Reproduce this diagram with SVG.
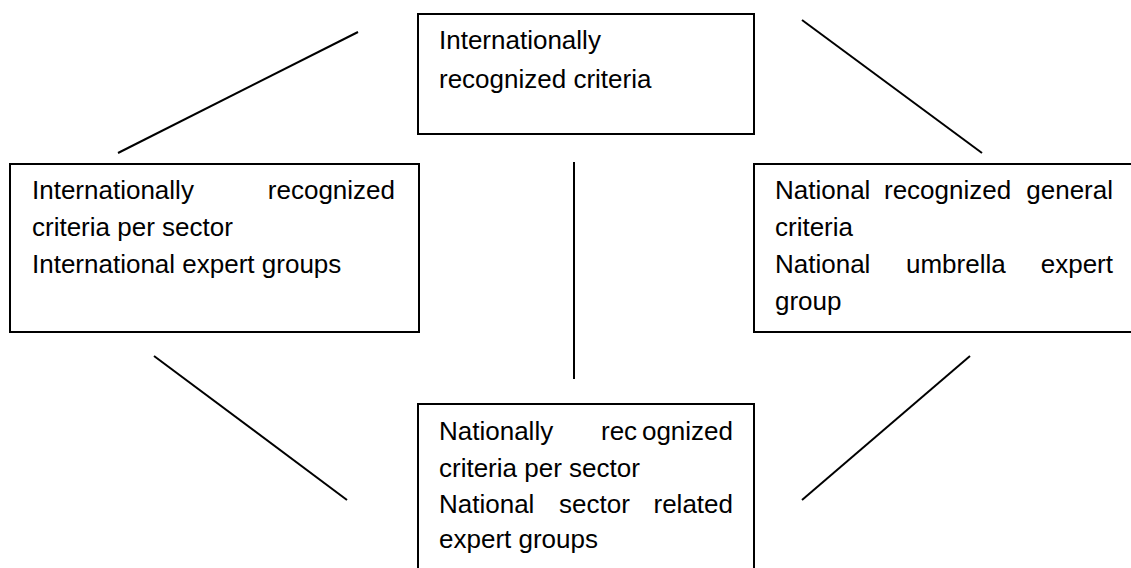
<svg xmlns="http://www.w3.org/2000/svg" width="1131" height="568" viewBox="0 0 1131 568">
<style>
.box{fill:#fff;stroke:#000;stroke-width:2}
.ln{stroke:#000;stroke-width:2;fill:none}
text{font-family:"Liberation Sans",Arial,sans-serif;font-size:26px;fill:#000}
.e{text-anchor:end}
</style>
<rect width="1131" height="568" fill="#fff"/>
<g id="connectors">
<line class="ln" x1="118" y1="153" x2="358" y2="32"/>
<line class="ln" x1="802" y1="20" x2="982" y2="153"/>
<line class="ln" x1="574" y1="162" x2="574" y2="379"/>
<line class="ln" x1="154" y1="356" x2="347" y2="500"/>
<line class="ln" x1="970" y1="356" x2="802" y2="500"/>
</g>
<g id="top">
<rect class="box" x="418" y="14" width="336" height="120"/>
<text x="439" y="49">Internationally</text>
<text x="439" y="88">recognized criteria</text>
</g>
<g id="left">
<rect class="box" x="10" y="164" width="409" height="168"/>
<text x="32" y="199">Internationally</text>
<text class="e" x="395" y="199">recognized</text>
<text x="32" y="236">criteria per sector</text>
<text x="32" y="273">International expert groups</text>
</g>
<g id="right">
<rect class="box" x="754" y="164" width="400" height="168"/>
<text x="775" y="199">National</text>
<text x="884" y="199">recognized</text>
<text class="e" x="1113" y="199">general</text>
<text x="775" y="236">criteria</text>
<text x="775" y="273">National</text>
<text x="906" y="273">umbrella</text>
<text class="e" x="1113" y="273">expert</text>
<text x="775" y="310">group</text>
</g>
<g id="bottom">
<rect class="box" x="418" y="404" width="336" height="200"/>
<text x="439" y="440">Nationally</text>
<text x="601" y="440">rec</text>
<text class="e" x="733" y="440">ognized</text>
<text x="439" y="477">criteria per sector</text>
<text x="439" y="513">National</text>
<text x="559" y="513">sector</text>
<text class="e" x="733" y="513">related</text>
<text x="439" y="548">expert groups</text>
</g>
</svg>
